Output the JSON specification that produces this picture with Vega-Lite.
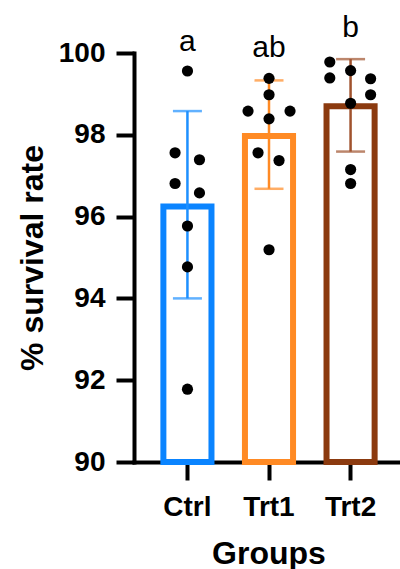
{
  "$schema": "https://vega.github.io/schema/vega-lite/v6.json",
  "width": 270,
  "height": 409,
  "autosize": {"type": "none"},
  "padding": {"left": 134, "top": 53, "right": 0, "bottom": 107},
  "background": "white",
  "config": {"view": {"stroke": null}, "font": "Liberation Sans"},
  "datasets": {
    "summary": [
      {"group": "Ctrl", "mean": 96.25, "lo": 94.0, "hi": 98.58, "label": "a", "labelY": 100.06},
      {"group": "Trt1", "mean": 97.97, "lo": 96.68, "hi": 99.33, "label": "ab", "labelY": 99.9},
      {"group": "Trt2", "mean": 98.7, "lo": 97.59, "hi": 99.85, "label": "b", "labelY": 100.38}
    ],
    "points": [
      {"group": "Ctrl", "value": 99.56, "jit": 0},
      {"group": "Ctrl", "value": 97.56, "jit": -0.62},
      {"group": "Ctrl", "value": 97.39, "jit": 0.6},
      {"group": "Ctrl", "value": 96.81, "jit": -0.62},
      {"group": "Ctrl", "value": 96.58, "jit": 0.6},
      {"group": "Ctrl", "value": 95.77, "jit": 0},
      {"group": "Ctrl", "value": 94.77, "jit": 0},
      {"group": "Ctrl", "value": 91.78, "jit": 0},
      {"group": "Trt1", "value": 99.38, "jit": 0},
      {"group": "Trt1", "value": 98.98, "jit": 0},
      {"group": "Trt1", "value": 98.58, "jit": -1.05},
      {"group": "Trt1", "value": 98.58, "jit": 1.05},
      {"group": "Trt1", "value": 98.39, "jit": 0},
      {"group": "Trt1", "value": 97.56, "jit": -0.55},
      {"group": "Trt1", "value": 97.37, "jit": 0.5},
      {"group": "Trt1", "value": 95.19, "jit": 0},
      {"group": "Trt2", "value": 99.78, "jit": -1.04},
      {"group": "Trt2", "value": 99.39, "jit": -1.04},
      {"group": "Trt2", "value": 99.57, "jit": 0},
      {"group": "Trt2", "value": 99.37, "jit": 1.0},
      {"group": "Trt2", "value": 98.98, "jit": 1.0},
      {"group": "Trt2", "value": 98.77, "jit": 0},
      {"group": "Trt2", "value": 97.15, "jit": 0},
      {"group": "Trt2", "value": 96.81, "jit": 0}
    ]
  },
  "encoding": {
    "x": {
      "field": "group",
      "type": "nominal",
      "sort": ["Ctrl", "Trt1", "Trt2"],
      "scale": {"paddingInner": 0.41, "paddingOuter": 0.36},
      "axis": {
        "title": "Groups",
        "titleFontSize": 32,
        "titleFontWeight": "bold",
        "titleColor": "black",
        "titleX": 134.5,
        "titleY": 101,
        "titleBaseline": "alphabetic",
        "labelFontSize": 28,
        "labelFontWeight": "bold",
        "labelColor": "black",
        "labelAngle": 0,
        "labelPadding": 13,
        "tickSize": 18,
        "tickWidth": 4,
        "tickColor": "black",
        "domainWidth": 4,
        "domainColor": "black",
        "domainCap": "square",
        "grid": false
      }
    }
  },
  "layer": [
    {
      "data": {"name": "summary"},
      "mark": {"type": "bar", "fill": "white", "strokeWidth": 6, "width": 48.1},
      "encoding": {
        "y": {
          "field": "mean",
          "type": "quantitative",
          "scale": {"domain": [90, 100], "zero": false, "nice": false},
          "axis": {
            "values": [90, 92, 94, 96, 98, 100],
            "title": "% survival rate",
            "titleFontSize": 32,
            "titleFontWeight": "bold",
            "titleColor": "black",
            "titleX": -92,
            "titleY": 204.5,
            "titleAngle": 270,
            "titleAlign": "center",
            "titleBaseline": "alphabetic",
            "labelFontSize": 28,
            "labelFontWeight": "bold",
            "labelColor": "black",
            "labelPadding": 11,
            "tickSize": 18,
            "tickWidth": 4,
            "tickColor": "black",
            "domainWidth": 4,
            "domainColor": "black",
            "domainCap": "square",
            "grid": false
          }
        },
        "y2": {"datum": 90},
        "stroke": {
          "field": "group",
          "type": "nominal",
          "scale": {"domain": ["Ctrl", "Trt1", "Trt2"], "range": ["#0A84FF", "#FF8A24", "#8B3A0F"]},
          "legend": null
        }
      }
    },
    {
      "data": {"name": "summary"},
      "mark": {"type": "rule", "strokeWidth": 2.5},
      "encoding": {
        "y": {"field": "lo", "type": "quantitative"},
        "y2": {"field": "hi"},
        "color": {
          "field": "group",
          "type": "nominal",
          "scale": {"domain": ["Ctrl", "Trt1", "Trt2"], "range": ["#1E90FF", "#FF8A24", "#A0522D"]},
          "legend": null
        }
      }
    },
    {
      "data": {"name": "summary"},
      "mark": {"type": "tick", "orient": "horizontal", "size": 29, "thickness": 2.5},
      "encoding": {
        "y": {"field": "lo", "type": "quantitative"},
        "color": {"field": "group", "type": "nominal", "legend": null}
      }
    },
    {
      "data": {"name": "summary"},
      "mark": {"type": "tick", "orient": "horizontal", "size": 29, "thickness": 2.5},
      "encoding": {
        "y": {"field": "hi", "type": "quantitative"},
        "color": {"field": "group", "type": "nominal", "legend": null}
      }
    },
    {
      "data": {"name": "points"},
      "mark": {"type": "point", "shape": "circle", "filled": true, "size": 125, "color": "black", "opacity": 1},
      "encoding": {
        "y": {"field": "value", "type": "quantitative"},
        "xOffset": {"field": "jit", "type": "quantitative", "scale": {"domain": [-1, 1], "range": [4.1, 44.1]}}
      }
    },
    {
      "data": {"name": "summary"},
      "mark": {"type": "text", "fontSize": 30, "baseline": "alphabetic", "align": "center", "color": "black", "font": "Liberation Sans"},
      "encoding": {
        "y": {"field": "labelY", "type": "quantitative"},
        "text": {"field": "label"}
      }
    }
  ]
}
